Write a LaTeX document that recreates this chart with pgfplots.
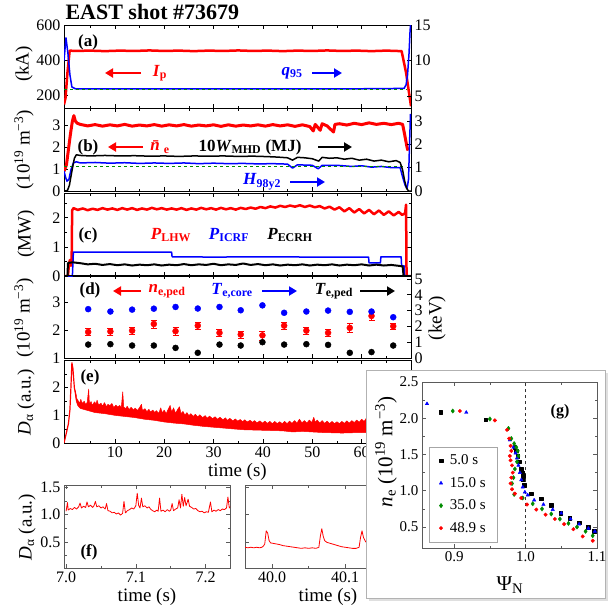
\documentclass[border=0pt]{standalone}
\usepackage{fontspec}
\setmainfont{Liberation Serif}
\usepackage{pgfplots}
\pgfplotsset{compat=1.18}
\usetikzlibrary{arrows.meta}

\definecolor{cR}{RGB}{255,0,0}
\definecolor{cB}{RGB}{0,0,255}
\definecolor{cG}{RGB}{0,140,0}
\definecolor{frm}{RGB}{90,90,90}
\newcommand{\fs}[1]{\fontsize{#1}{#1}\selectfont}

\pgfplotsset{
  base/.style={scale only axis, anchor=north west, tick align=inside,
    major tick length=4pt, minor tick length=2.5pt,
    tick label style={font=\fs{16}},
    /pgf/number format/assume math mode=true,
    axis line style={line width=0.8pt}, tick style={line width=0.6pt, black},
    every axis plot/.append style={line join=round}},
  tp/.style={base, width=347pt, height=83pt, xmin=-0.3, xmax=70,
    xtick={10,20,...,60}, minor xtick={5,15,...,65}, xticklabels={},
    xtick pos=both, ytick pos=left},
  tpr/.style={tp, axis x line=none, axis y line*=right, ytick pos=right, yticklabel pos=right},
}
\tikzset{
  arr/.style={line width=2.2pt, -{Triangle[length=8pt,width=9pt]}},
  pl/.style={font=\fs{17}\bfseries},
}

\begin{document}
\begin{tikzpicture}
\path[use as bounding box] (0pt,0pt) rectangle (609pt,-608pt);

% ---------- (a) ----------
\begin{axis}[tp, at={(64pt,-25pt)}, ymin=130, ymax=600, ytick={200,400,600}, minor ytick={300,500}]
\addplot[cR, line width=2.5pt] coordinates {(-0.3,150)(0,185)(0.4,330)(0.85,455)(2,453)(5,455)(8,452)(11,455)(14,453)(17,456)(20,453)(23,455)(26,452)(29,455)(32,453)(35,456)(38,453)(41,455)(44,452)(47,455)(50,453)(53,456)(56,453)(59,455)(62,452)(65,455)(68.1,452)(69,330)(70,140)};
\end{axis}
\begin{axis}[tpr, at={(64pt,-25pt)}, ymin=3.35, ymax=15, ytick={5,10,15}]
\addplot[cB, line width=1.5pt] coordinates {(-0.3,10)(0.1,13.2)(0.5,11)(0.9,8)(1.3,6.3)(2,6.05)(10,6.05)(20,6.05)(30,6.05)(40,6.05)(50,6.05)(60,6.05)(68.6,6.1)(69,6.6)(69.3,8)(69.6,11)(69.8,14)(70,16)};
\addplot[cG, dashed, line width=1.5pt] coordinates {(-0.3,5.95)(69.2,5.95)};
\end{axis}

% ---------- (b) ----------
\begin{axis}[tp, at={(64pt,-108pt)}, ymin=0, ymax=3.8, ytick={0,1,2,3}]
\addplot[cR, line width=3pt] coordinates {(-0.3,0.9)(0.2,1.2)(0.6,1.9)(1.0,2.6)(1.4,3.2)(1.7,3.45)(2.0,3.2)(2.4,3.1)(3,3.05)(4.5,2.98)(6,3.04)(7.5,2.97)(9,3.03)(10.5,2.98)(12,3.05)(13.5,2.97)(15,3.02)(16.5,2.98)(18,3.04)(19.5,2.97)(21,3.03)(22.5,2.98)(24,3.04)(25.5,2.97)(27,3.02)(28.5,2.98)(30,3.03)(31.5,2.96)(33,3.03)(34.5,2.97)(36,3.02)(37.5,2.98)(39,3.03)(40.5,2.97)(42,3.04)(43.5,2.98)(45,3.03)(46.5,2.96)(48,3.03)(49.5,2.95)(50.2,2.75)(50.6,3.05)(51.6,2.78)(52,3.08)(53,2.98)(54.3,2.7)(54.6,3.05)(55.5,3.08)(57,3.02)(58.5,3.1)(60,3.04)(61.5,3.12)(63,3.05)(64.5,3.1)(66,3.04)(67.5,3.1)(68.3,3.05)(68.7,2.6)(69.2,2.0)(69.4,1.85)};
\end{axis}
\begin{axis}[tpr, at={(64pt,-108pt)}, ymin=0, ymax=3.55, ytick={0,1,2,3}]
\addplot[cB, line width=1.5pt] coordinates {(-0.3,0.85)(0,0.6)(0.3,0.42)(0.7,0.5)(1.1,0.9)(1.6,1.2)(2.2,1.25)(3,1.2)(6,1.22)(9,1.19)(12,1.21)(15,1.18)(18,1.2)(21,1.18)(24,1.2)(27,1.17)(30,1.19)(33,1.17)(36,1.18)(39,1.16)(42,1.17)(45,1.15)(46,0.98)(47,1.12)(50,1.1)(51.2,0.95)(52,1.1)(55,1.1)(58,1.05)(60,1.08)(62,1.02)(64,1.05)(66,1.0)(67.8,1.0)(68.3,0.6)(68.8,0.25)(69.2,0.1)(69.5,0.5)(69.7,2)(69.9,3.3)};
\addplot[cG, dashed, line width=1.8pt] coordinates {(-0.3,1.05)(68.5,1.05)};
\addplot[black, line width=1.5pt] coordinates {(-0.3,0)(0.4,0.02)(0.8,0.25)(1.3,0.85)(1.8,1.4)(2.2,1.55)(3,1.52)(5,1.5)(8,1.52)(11,1.5)(14,1.51)(17,1.49)(20,1.5)(23,1.48)(26,1.5)(29,1.49)(32,1.5)(35,1.48)(38,1.49)(41,1.47)(43,1.45)(45,1.42)(46,1.32)(47,1.44)(48.5,1.42)(50,1.38)(51.3,1.28)(52,1.44)(53.5,1.40)(55,1.42)(56.5,1.36)(58,1.40)(59.5,1.32)(61,1.36)(62.5,1.28)(64,1.32)(65.5,1.25)(67,1.30)(67.8,1.22)(68.3,0.9)(68.7,0.45)(69.1,0.12)(69.5,0)(70,0)};
\end{axis}

% ---------- (c) ----------
\begin{axis}[tp, at={(64pt,-193pt)}, ymin=0, ymax=2.85, ytick={0,1,2}, minor ytick={0.5,1.5,2.5}, ytick pos=both, yticklabel pos=left]
\addplot[cR, line width=2.5pt] coordinates {(-0.3,0)(0.5,0)(0.7,0.4)(0.9,0.55)(1.1,0.35)(1.25,0.5)(1.35,2.25)(1.6,2.33)(2.5,2.27)(3.5,2.32)(4.5,2.26)(5.5,2.31)(6.5,2.27)(7.5,2.33)(8.5,2.28)(9.5,2.32)(10.5,2.27)(11.5,2.33)(12.5,2.28)(13.5,2.33)(14.5,2.27)(15.5,2.32)(16.5,2.28)(17.5,2.34)(18.5,2.29)(19.5,2.33)(20.5,2.28)(21.5,2.32)(22.5,2.28)(23.5,2.33)(24.5,2.27)(25.5,2.32)(26.5,2.28)(27.5,2.34)(28.5,2.29)(29.5,2.33)(30.5,2.28)(31.5,2.34)(32.5,2.29)(33.5,2.33)(34.5,2.28)(35.5,2.34)(36.5,2.30)(37.5,2.35)(38.5,2.31)(39.5,2.37)(40.5,2.33)(41.5,2.39)(42.5,2.35)(43.5,2.41)(44.5,2.37)(45.5,2.42)(46.5,2.38)(47.5,2.43)(48.5,2.37)(49.5,2.42)(50.5,2.36)(51.5,2.40)(52.5,2.32)(53.5,2.38)(54.5,2.28)(55.5,2.36)(56.5,2.22)(57.5,2.33)(58.5,2.18)(59.5,2.30)(60.5,2.15)(61.5,2.27)(62.5,2.12)(63.5,2.25)(64.5,2.10)(65.5,2.22)(66.5,2.08)(67.5,2.20)(68.2,2.10)(68.8,2.15)(69,2.45)(69.1,0)(70,0)};
\addplot[cB, line width=1.5pt] coordinates {(-0.3,0)(1.4,0)(1.6,0.82)(21.5,0.82)(21.6,0.66)(30,0.65)(40,0.66)(50,0.65)(61.4,0.65)(61.5,0.45)(63.8,0.45)(63.9,0.66)(68,0.66)(68.1,0.35)(68.6,0.35)(68.7,0)(70,0)};
\addplot[black, line width=2pt] coordinates {(-0.3,0)(0.4,0)(0.5,0.45)(1.5,0.47)(3,0.44)(4.5,0.40)(6,0.42)(7.5,0.38)(9,0.41)(10.5,0.37)(12,0.40)(13.5,0.36)(15,0.39)(16.5,0.37)(18,0.40)(19.5,0.36)(21,0.39)(22.5,0.37)(24,0.41)(25.5,0.37)(27,0.40)(28.5,0.38)(30,0.42)(31.5,0.37)(33,0.40)(34.5,0.38)(36,0.43)(37.5,0.38)(39,0.41)(40.5,0.37)(42,0.40)(43.5,0.36)(45,0.39)(46.5,0.37)(48,0.40)(49.5,0.36)(51,0.39)(52.5,0.37)(54,0.40)(55.5,0.36)(57,0.39)(58.5,0.37)(60,0.40)(61.5,0.36)(63,0.39)(64.5,0.36)(66,0.38)(67.5,0.35)(68.3,0.33)(68.5,0)(70,0)};
\end{axis}

% ---------- (d) ----------
\begin{axis}[tp, at={(64pt,-275pt)}, ymin=1, ymax=4, ytick={1,2,3}]
\addplot[cR, only marks, mark=*, mark size=3pt, error bars/.cd, y dir=both, y explicit, error bar style={line width=1pt}] coordinates {
(4.6,1.94) +- (0,0.12) (9.1,1.96) +- (0,0.12) (13.5,1.99) +- (0,0.12) (17.9,2.23) +- (0,0.14) (22.3,1.97) +- (0,0.13)
(26.8,2.17) +- (0,0.13) (31.2,1.91) +- (0,0.12) (35.5,1.85) +- (0,0.12) (39.9,1.82) +- (0,0.16) (44.3,2.17) +- (0,0.13)
(48.8,1.99) +- (0,0.12) (53.2,1.91) +- (0,0.13) (57.6,2.09) +- (0,0.16) (62.0,2.52) +- (0,0.14) (66.4,2.15) +- (0,0.1)};
\end{axis}
\begin{axis}[tpr, at={(64pt,-275pt)}, ymin=0, ymax=5.25, ytick={0,1,...,5}]
\addplot[cB, only marks, mark=*, mark size=3pt] coordinates {(4.6,3.09)(9.1,2.94)(13.5,3.06)(17.9,3.12)(22.3,3.23)(26.8,3.13)(31.2,3.23)(35.5,3.02)(39.9,3.33)(44.3,2.86)(48.8,2.94)(53.2,3.0)(57.6,2.92)(62.0,2.94)(66.4,2.58)};
\addplot[black, only marks, mark=*, mark size=3pt] coordinates {(4.6,0.85)(9.1,0.875)(13.5,0.79)(17.9,0.79)(22.3,0.64)(26.8,0.33)(31.2,0.85)(35.5,0.79)(39.9,1.0)(44.3,0.85)(48.8,0.875)(53.2,0.83)(57.6,0.33)(62.0,0.375)(66.4,0.79)};
\end{axis}

% ---------- (e) ----------
\begin{axis}[tp, at={(64pt,-360pt)}, ymin=0, ymax=3, ytick={0,1,2}, minor ytick={0.5,1.5,2.5},
  xticklabels={10,20,30,40,50,60}, xticklabel pos=lower, xlabel={time (s)}, xlabel style={font=\fs{19}, yshift=1pt}]
\addplot[cR, fill=cR, line width=0.5pt] coordinates {(2.0,1.9)(2.3,1.6)(2.6,1.52)(2.9,1.44)(3.1,1.58)(3.4,1.43)(3.8,1.51)(4.1,1.39)(4.4,1.47)(4.7,1.95)(4.85,1.42)(5.2,1.50)(5.4,1.36)(5.9,1.49)(6.2,1.41)(6.4,1.55)(6.7,1.37)(7.2,1.44)(7.5,1.33)(7.9,1.46)(8.3,1.31)(8.6,1.40)(9.0,1.35)(9.4,1.43)(9.8,1.28)(10.2,1.37)(10.6,1.30)(11.0,1.36)(11.3,1.27)(11.6,1.85)(11.8,1.30)(12.2,1.24)(12.5,1.33)(12.9,1.21)(13.3,1.29)(13.8,1.19)(14.1,1.26)(14.6,1.18)(15.0,1.28)(15.4,1.40)(15.6,1.17)(16.1,1.24)(16.5,1.13)(16.9,1.22)(17.2,1.12)(17.7,1.19)(18.1,1.10)(18.4,1.17)(18.9,1.07)(19.3,1.27)(19.6,1.09)(20.0,1.19)(20.4,1.06)(20.8,1.22)(21.2,1.36)(21.5,1.12)(21.9,1.27)(22.3,1.07)(22.7,1.21)(23.1,1.31)(23.4,1.06)(23.8,1.14)(24.2,1.01)(24.6,1.10)(25.0,0.99)(25.4,1.06)(25.9,0.96)(26.3,1.04)(26.8,0.94)(27.2,1.02)(27.8,0.92)(28.3,0.99)(28.7,0.90)(29.2,0.97)(29.8,0.88)(30.3,0.95)(30.8,0.86)(31.3,0.93)(31.9,0.84)(32.4,0.91)(32.8,0.82)(33.3,0.89)(33.9,0.80)(34.4,0.87)(34.9,0.79)(35.4,0.85)(35.9,0.77)(36.3,0.84)(36.8,0.76)(37.4,0.82)(37.9,0.75)(38.3,0.81)(38.8,0.73)(39.4,0.80)(39.9,0.72)(40.4,0.79)(40.9,0.71)(41.4,0.78)(41.9,0.70)(42.4,0.78)(42.9,0.70)(43.4,0.77)(43.9,0.70)(44.4,0.78)(44.9,0.70)(45.4,0.79)(45.9,0.71)(46.4,0.81)(46.9,0.72)(47.4,0.86)(47.9,0.73)(48.4,0.81)(48.9,0.72)(49.4,0.83)(49.9,0.74)(50.3,0.93)(50.6,0.75)(51.0,0.83)(51.5,0.72)(52.0,0.81)(52.5,0.71)(53.0,0.79)(53.5,0.70)(54.0,0.78)(54.5,0.70)(55.0,0.77)(55.5,0.70)(56.0,0.78)(56.5,0.71)(57.0,0.80)(57.5,0.72)(58.0,0.81)(58.5,0.74)(59.0,0.83)(59.5,0.75)(60.0,0.86)(60.5,0.78)(61.0,0.91)(61.5,0.82)(62.0,0.93)(63.0,0.85)(64.0,0.96)(65.0,0.88)(66.0,0.96)(67.0,0.90)(68.0,0.96)
(68,0.38)(64,0.36)(60,0.38)(56,0.36)(52,0.38)(48,0.42)(46,0.40)(44,0.44)(40,0.46)(36,0.48)(32,0.54)(30,0.57)(28,0.6)(26,0.64)(24,0.69)(22,0.72)(20,0.76)(18,0.82)(16,0.86)(14,0.92)(12,0.96)(10,1.0)(8,1.06)(6,1.1)(4,1.2)(3,1.25)(2.5,1.35)(2.2,1.5)(2.0,1.7)} --cycle;
\addplot[cR, line width=1.2pt] coordinates {(-0.3,0)(0.1,0.3)(0.6,0.7)(0.9,1.2)(1.1,2.0)(1.3,2.9)(1.5,2.7)(1.8,2.0)(2.1,1.7)};
\end{axis}

% ---------- (f) ----------
\begin{axis}[base, at={(64pt,-485pt)}, width=166pt, height=83pt, xmin=6.997, xmax=7.235, ymin=0.02, ymax=1.54,
  xtick={7.0,7.1,7.2}, minor xtick={7.05,7.15}, ytick={0.5,1.0,1.5}, minor ytick={0.25,0.75,1.25},
  xticklabel style={/pgf/number format/.cd,fixed,fixed zerofill,precision=1},
  yticklabel style={/pgf/number format/.cd,fixed,fixed zerofill,precision=1},
  axis line style={frm}, tick style={frm},
  xlabel={time (s)}, xlabel style={font=\fs{19}, yshift=1pt}]
\addplot[cR, line width=0.8pt] coordinates {(7.000,1.06)(7.002,1.22)(7.003,1.08)(7.006,1.11)(7.009,1.09)(7.012,1.13)(7.015,1.10)(7.018,1.14)(7.020,1.21)(7.022,1.12)(7.025,1.15)(7.028,1.13)(7.030,1.23)(7.032,1.14)(7.035,1.17)(7.038,1.13)(7.040,1.16)(7.042,1.24)(7.044,1.14)(7.047,1.16)(7.050,1.12)(7.053,1.14)(7.056,1.10)(7.058,1.20)(7.060,1.07)(7.063,1.06)(7.066,1.03)(7.069,1.04)(7.072,1.01)(7.075,1.03)(7.078,0.99)(7.081,1.02)(7.083,1.24)(7.085,1.03)(7.088,1.07)(7.091,1.09)(7.094,1.12)(7.097,1.10)(7.100,1.16)(7.102,1.39)(7.104,1.17)(7.106,1.12)(7.108,1.30)(7.110,1.14)(7.113,1.16)(7.116,1.12)(7.119,1.14)(7.121,1.10)(7.124,1.07)(7.127,1.05)(7.130,1.08)(7.132,1.06)(7.134,1.30)(7.136,1.06)(7.139,1.08)(7.142,1.05)(7.145,1.09)(7.148,1.06)(7.150,1.08)(7.152,1.20)(7.154,1.07)(7.157,1.10)(7.160,1.12)(7.162,1.27)(7.164,1.12)(7.166,1.37)(7.168,1.15)(7.170,1.31)(7.172,1.16)(7.175,1.28)(7.177,1.15)(7.180,1.13)(7.183,1.10)(7.186,1.11)(7.189,1.07)(7.192,1.05)(7.195,1.06)(7.198,1.03)(7.201,1.05)(7.204,1.04)(7.207,1.23)(7.209,1.05)(7.212,1.08)(7.215,1.06)(7.218,1.09)(7.221,1.07)(7.224,1.10)(7.227,1.09)(7.230,1.12)(7.232,1.32)(7.234,1.12)(7.236,1.15)};
\end{axis}
\begin{axis}[base, at={(245pt,-485pt)}, width=166pt, height=83pt, xmin=39.963, xmax=40.19, ymin=0.02, ymax=1.54,
  xtick={40.0,40.1}, minor xtick={40.05,40.15}, ytick={0.5,1.0,1.5}, yticklabels={},
  xticklabel style={/pgf/number format/.cd,fixed,fixed zerofill,precision=1},
  axis line style={frm}, tick style={frm},
  xlabel={time (s)}, xlabel style={font=\fs{19}, yshift=1pt}]
\addplot[cR, line width=0.8pt] coordinates {(39.963,0.40)(39.967,0.39)(39.971,0.40)(39.975,0.39)(39.979,0.40)(39.983,0.39)(39.986,0.40)(39.988,0.42)(39.990,0.46)(39.992,0.70)(39.994,0.66)(39.996,0.52)(39.998,0.48)(40.002,0.47)(40.006,0.46)(40.010,0.45)(40.015,0.43)(40.020,0.42)(40.025,0.41)(40.030,0.40)(40.035,0.39)(40.040,0.38)(40.045,0.39)(40.050,0.38)(40.055,0.39)(40.060,0.38)(40.064,0.40)(40.066,0.60)(40.068,0.74)(40.070,0.60)(40.072,0.52)(40.075,0.49)(40.080,0.47)(40.085,0.45)(40.090,0.43)(40.095,0.41)(40.100,0.40)(40.105,0.39)(40.110,0.38)(40.115,0.38)(40.119,0.40)(40.121,0.58)(40.123,0.70)(40.125,0.58)(40.128,0.50)(40.132,0.47)(40.140,0.45)(40.150,0.43)(40.160,0.41)(40.170,0.40)(40.180,0.39)(40.190,0.38)};
\end{axis}

% ---------- (g) box ----------
\fill[gray!25] (369pt,-373pt) rectangle (608pt,-601pt);
\filldraw[fill=white, draw=gray!60, line width=0.8pt] (366pt,-370pt) rectangle (605pt,-598pt);
\begin{axis}[base, at={(422pt,-382pt)}, width=175pt, height=166pt, xmin=0.855, xmax=1.1, ymin=0.21, ymax=2.5,
  xtick={0.9,1.0,1.1}, minor xtick={0.95,1.05}, ytick={0.5,1.0,...,2.5}, minor ytick={0.75,1.25,...,2.25},
  tick label style={font=\fs{15}},
  xticklabel style={/pgf/number format/.cd,fixed,fixed zerofill,precision=1},
  yticklabel style={/pgf/number format/.cd,fixed,fixed zerofill,precision=1},
  axis line style={frm}, tick style={frm},
  legend style={at={(0.04,0.036)}, anchor=south west, draw=gray!70, font=\fs{15},
    row sep=7pt, inner xsep=10pt, inner ysep=6pt},
  legend cell align=left]
\addplot[black, only marks, mark=square*, mark size=1.8pt] coordinates {(0.881,2.08)(0.944,1.98)(0.985,1.60)(0.987,1.55)(0.989,1.48)(0.991,1.40)(0.994,1.30)(0.996,1.25)(0.997,1.20)(0.996,1.15)(0.998,1.08)(1.008,0.96)(1.022,0.89)(1.036,0.80)(1.049,0.69)(1.062,0.62)(1.075,0.56)(1.088,0.50)(1.096,0.44)};
\addlegendentry{\hspace{5pt}5.0 s}
\addplot[cB, only marks, mark=triangle*, mark size=2pt] coordinates {(0.862,2.20)(0.917,2.08)(0.978,1.70)(0.983,1.60)(0.986,1.52)(0.988,1.45)(0.990,1.35)(0.992,1.25)(0.994,1.15)(0.996,1.05)(0.999,0.98)(1.003,0.94)(1.012,0.87)(1.025,0.81)(1.038,0.74)(1.050,0.69)(1.063,0.61)(1.075,0.54)(1.088,0.48)(1.097,0.44)};
\addlegendentry{\hspace{5pt}15.0 s}
\addplot[cG, only marks, mark=diamond*, mark size=2.2pt] coordinates {(0.898,2.10)(0.950,1.99)(0.976,1.86)(0.980,1.72)(0.984,1.65)(0.987,1.60)(0.989,1.55)(0.990,1.48)(0.988,1.40)(0.985,1.30)(0.983,1.18)(0.981,1.10)(0.984,0.95)(0.996,0.90)(1.010,0.82)(1.023,0.75)(1.036,0.68)(1.048,0.61)(1.060,0.55)(1.072,0.50)(1.084,0.44)(1.094,0.38)};
\addlegendentry{\hspace{5pt}35.0 s}
\addplot[cR, only marks, mark=*, mark size=1.8pt] coordinates {(0.908,2.10)(0.957,1.97)(0.974,1.84)(0.977,1.72)(0.979,1.62)(0.980,1.55)(0.978,1.48)(0.979,1.42)(0.981,1.35)(0.982,1.25)(0.980,1.18)(0.979,1.10)(0.981,1.02)(0.985,0.96)(0.994,0.90)(1.002,0.81)(1.015,0.74)(1.028,0.67)(1.041,0.61)(1.054,0.54)(1.067,0.47)(1.080,0.37)(1.094,0.31)};
\addlegendentry{\hspace{5pt}48.9 s}
\addplot[gray!40!black, dashed, line width=0.8pt, forget plot] coordinates {(1.0,0.21)(1.0,2.5)};
\end{axis}

% ---------- texts ----------
\node[anchor=west, font=\fs{22}\bfseries] at (62pt,-12pt) {EAST shot \#73679};
\node[pl] at (88pt,-42pt) {(a)};
\draw[arr, cR] (141pt,-73pt) -- (105pt,-73pt);
\node[font=\fs{17}, cR] at (160pt,-73pt) {\textbf{\textit{I}}\textsubscript{\textbf{p}}};
\node[font=\fs{17}, cB] at (292pt,-73pt) {\textbf{\textit{q}}\textsubscript{\textbf{95}}};
\draw[arr, cB] (312pt,-73pt) -- (342pt,-73pt);

\node[pl] at (88pt,-147pt) {(b)};
\draw[arr, cR] (143pt,-147pt) -- (108pt,-147pt);
\node[font=\fs{17}, cR] at (160pt,-147pt) {\textbf{\textit{\=n}}\textsubscript{\textbf{e}}};
\node[font=\fs{17}\bfseries] at (250pt,-147pt) {10\textit{W}\textsubscript{MHD} (MJ)};
\draw[arr, black] (318pt,-147pt) -- (352pt,-147pt);
\node[font=\fs{17}, cB] at (262pt,-182pt) {\textbf{\textit{H}}\textsubscript{\textbf{98y2}}};
\draw[arr, cB] (290pt,-182pt) -- (325pt,-182pt);

\node[pl] at (88pt,-235pt) {(c)};
\node[font=\fs{17}, cR] at (171pt,-235pt) {\textbf{\textit{P}}\textsubscript{\textbf{LHW}}};
\node[font=\fs{17}, cB] at (229pt,-235pt) {\textbf{\textit{P}}\textsubscript{\textbf{ICRF}}};
\node[font=\fs{17}] at (290pt,-235pt) {\textbf{\textit{P}}\textsubscript{\textbf{ECRH}}};

\node[pl] at (90pt,-290pt) {(d)};
\draw[arr, cR] (141pt,-291pt) -- (113pt,-291pt);
\node[font=\fs{17}, cR] at (167pt,-291pt) {\textbf{\textit{n}}\textsubscript{\textbf{e,ped}}};
\node[font=\fs{17}, cB] at (232pt,-291pt) {\textbf{\textit{T}}\textsubscript{\textbf{e,core}}};
\draw[arr, cB] (262pt,-291pt) -- (297pt,-291pt);
\node[font=\fs{17}] at (334pt,-291pt) {\textbf{\textit{T}}\textsubscript{\textbf{e,ped}}};
\draw[arr, black] (360pt,-291pt) -- (395pt,-291pt);

\node[pl] at (90pt,-377pt) {(e)};
\node[pl] at (89pt,-552pt) {(f)};
\node[font=\fs{16}\bfseries] at (560pt,-412pt) {(g)};

\node[rotate=90, font=\fs{19}] at (24pt,-64pt) {(kA)};
\node[rotate=90, font=\fs{19}] at (24pt,-150pt) {(10\textsuperscript{19} m\textsuperscript{−3})};
\node[rotate=90, font=\fs{19}] at (26pt,-234pt) {(MW)};
\node[rotate=90, font=\fs{19}] at (24pt,-318pt) {(10\textsuperscript{19} m\textsuperscript{−3})};
\node[rotate=90, font=\fs{19}] at (26pt,-402pt) {\textit{D}\textsubscript{α} (a.u.)};
\node[rotate=90, font=\fs{19}] at (437pt,-318pt) {(keV)};
\node[rotate=90, font=\fs{19}] at (27pt,-527pt) {\textit{D}\textsubscript{α} (a.u.)};
\node[rotate=90, font=\fs{21}] at (386pt,-452pt) {\textit{n}\textsubscript{e} (10\textsuperscript{19} m\textsuperscript{−3})};
\node[font=\fs{21}] at (510pt,-585pt) {Ψ\textsubscript{N}};
\end{tikzpicture}
\end{document}
